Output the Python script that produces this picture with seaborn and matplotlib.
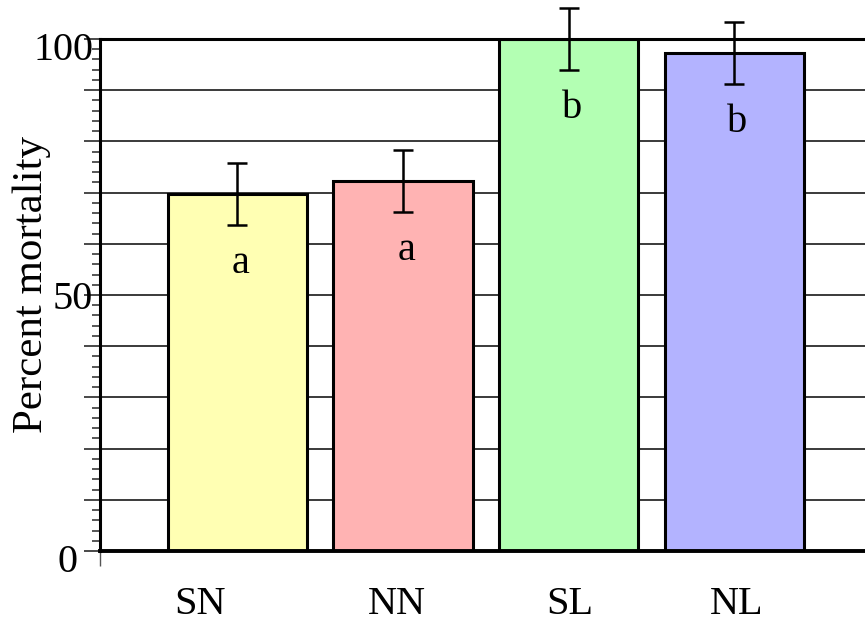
import matplotlib
matplotlib.use("Agg")
import matplotlib.pyplot as plt
import matplotlib.transforms as mtransforms
import numpy as np
import pandas as pd
import seaborn as sns

# Treatment groups, mean mortality (%) and error half-widths
groups = ["SN", "NN", "SL", "NL"]
mortality = [69.7, 72.3, 100.0, 97.3]
errors = [6.1, 6.1, 6.1, 6.1]
letters = ["a", "a", "b", "b"]
bar_colors = ["#ffffb3", "#ffb3b3", "#b3ffb3", "#b3b3ff"]

sns.set_theme(style="white")
plt.rcParams["font.family"] = ["Liberation Serif", "DejaVu Serif"]

df = pd.DataFrame({"group": groups, "mortality": mortality})

fig = plt.figure(figsize=(8.65, 6.23), dpi=100)
ax = fig.add_axes([0.1156, 0.1156, 0.8844, 0.8218])

sns.barplot(data=df, x="group", y="mortality", hue="group", palette=bar_colors,
            saturation=1, legend=False, errorbar=None, width=0.84,
            edgecolor="black", linewidth=2.2, ax=ax, zorder=2)

xpos = np.arange(len(groups))
ax.errorbar(xpos, mortality, yerr=errors, fmt="none", ecolor="black",
            elinewidth=1.8, capsize=7.5, capthick=1.8, zorder=4, clip_on=False)

# significance letters sit just under each error bar
for x, m, e, lab in zip(xpos, mortality, errors, letters):
    ax.text(x + 0.02, m - e - 9.4, lab, ha="center", va="baseline",
            fontsize=29, color="black", zorder=5)

ax.set_xlim(-0.83, 3.79)
ax.set_ylim(0, 100)

# y axis: gridlines every 10, minor ticks every 2, labels at 0/50/100
ax.set_yticks(np.arange(0, 101, 10))
ax.set_yticklabels(["0", "", "", "", "", "50", "", "", "", "", "100"])
ax.set_yticks(np.arange(0, 101, 2), minor=True)
ax.yaxis.grid(True, which="major", color="#3a3a3a", linewidth=1.4, zorder=0)
ax.set_axisbelow(True)
ax.tick_params(axis="y", which="major", direction="out", length=11.5,
               width=1.3, color="#3a3a3a", labelsize=29, pad=-6.5,
               labelcolor="black", left=True)
ax.tick_params(axis="y", which="minor", direction="out", length=5.8,
               width=1.2, color="#3a3a3a", left=True)

ylabels = ax.get_yticklabels()
ylabels[0].set_transform(ylabels[0].get_transform() +
                         mtransforms.ScaledTranslation(-11.5 / 72, -5 / 72, fig.dpi_scale_trans))
ylabels[10].set_transform(ylabels[10].get_transform() +
                          mtransforms.ScaledTranslation(0, -5 / 72, fig.dpi_scale_trans))

# x axis: category labels, plus a short stub below the left spine
ax.tick_params(axis="x", which="major", length=0, labelsize=29, pad=25,
               labelcolor="black")
xshift_px = [-37, -6, 1, 2]
for lab, dx in zip(ax.get_xticklabels(), xshift_px):
    lab.set_transform(lab.get_transform() +
                      mtransforms.ScaledTranslation(dx / 100, 0, fig.dpi_scale_trans))
ax.set_xticks([-0.83], minor=True)
ax.tick_params(axis="x", which="minor", direction="out", length=11,
               width=1.0, color="#555555", bottom=True)

ax.set_xlabel("")
ax.set_ylabel("Percent mortality", fontsize=31, color="black", va="center")
ax.yaxis.set_label_coords(-0.089, 0.521)

for side in ["left", "top", "bottom"]:
    ax.spines[side].set_visible(True)
    ax.spines[side].set_color("black")
ax.spines["left"].set_linewidth(2.2)
ax.spines["top"].set_linewidth(2.2)
ax.spines["bottom"].set_linewidth(2.8)
ax.spines["right"].set_visible(False)
for s in ax.spines.values():
    s.set_zorder(3)

fig.savefig("out.png", dpi=100)
